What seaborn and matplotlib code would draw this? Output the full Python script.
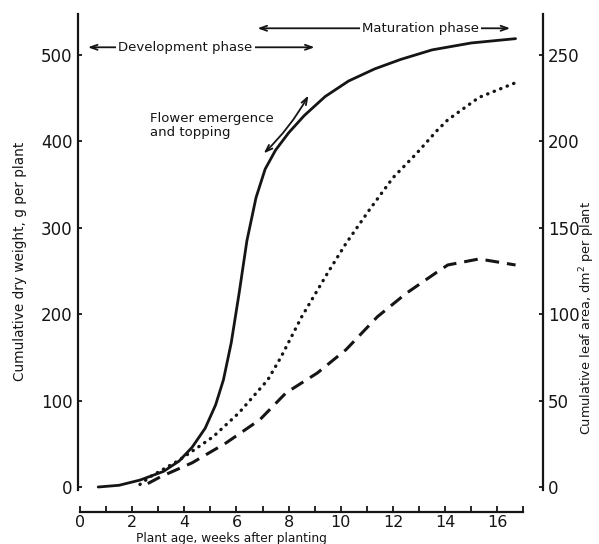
import pandas as pd
import matplotlib.pyplot as plt
import seaborn as sns

# total dry weight (solid), g per plant
dw_weeks = [0.7, 1.5, 2.3, 3.2, 3.8, 4.3, 4.8, 5.2, 5.5, 5.8, 6.1, 6.4, 6.75, 7.1, 7.5,
            8.0, 8.6, 9.4, 10.3, 11.3, 12.3, 13.5, 15.0, 16.7]
dw_vals = [0, 2, 8, 18, 30, 46, 68, 95, 124, 167, 224, 285, 335, 368, 390,
           410, 430, 452, 470, 484, 495, 506, 514, 519]

# second dry weight curve (dotted), g per plant
dot_weeks = [2.3, 2.7, 3.8, 5.1, 6.1, 7.2, 7.7, 8.5, 9.5, 10.2, 11.1, 12.0, 12.9, 13.7, 14.1, 15.3, 16.7]
dot_vals = [3, 12, 31, 58, 86, 124, 150, 197, 248, 282, 321, 358, 386, 413, 425, 451, 468]

# leaf area (dashed), dm2 per plant
la_weeks = [2.6, 3.1, 4.3, 5.6, 6.9, 7.9, 9.1, 10.2, 11.4, 12.5, 13.7, 14.1, 15.3, 16.7]
la_vals = [2, 6, 14, 25.5, 39, 54.5, 66, 79.5, 98.5, 112, 124.5, 128.5, 132, 128.5]

x_ticks = [0, 2, 4, 6, 8, 10, 12, 14, 16]
left_ticks = [0, 100, 200, 300, 400, 500]
right_ticks = [0, 50, 100, 150, 200, 250]


def main():
    sns.set_style("ticks")
    plt.rcParams['font.family'] = ['DejaVu Sans']
    ink = '#151515'

    fig = plt.figure(figsize=(5.99, 5.44), dpi=100)
    ax = fig.add_axes([0.130, 0.100, 0.776, 0.875])
    ax2 = ax.twinx()

    solid = pd.DataFrame({'week': dw_weeks, 'val': dw_vals})
    dotted = pd.DataFrame({'week': dot_weeks, 'val': dot_vals})
    dashed = pd.DataFrame({'week': la_weeks, 'val': la_vals})

    sns.lineplot(data=solid, x='week', y='val', ax=ax, color=ink, lw=2.0,
                 estimator=None, sort=False)
    sns.lineplot(data=dotted, x='week', y='val', ax=ax, color=ink, lw=2.4,
                 estimator=None, sort=False, dash_capstyle='round',
                 linestyle=(0, (0.1, 2.0)))
    sns.lineplot(data=dashed, x='week', y='val', ax=ax2, color=ink, lw=2.2,
                 estimator=None, sort=False, linestyle=(0, (4.5, 2.6)))

    ax.set_xlim(-0.08, 17.74)
    ax.set_ylim(-3, 548)
    ax2.set_ylim(-1.5, 274)

    ax.set_xticks(x_ticks)
    ax.set_xticks(range(1, 18, 2), minor=True)
    ax.set_yticks(left_ticks)
    ax2.set_yticks(right_ticks)

    for s in ['top', 'right']:
        ax.spines[s].set_visible(False)
    for s in ['top', 'left', 'bottom']:
        ax2.spines[s].set_visible(False)
    ax.spines['bottom'].set_position(('outward', 16))
    ax.spines['bottom'].set_bounds(0, 17)
    for sp in [ax.spines['left'], ax.spines['bottom'], ax2.spines['right']]:
        sp.set_linewidth(1.6)
        sp.set_color(ink)

    ax.tick_params(axis='x', which='both', direction='in', length=4, width=1.3,
                   labelsize=11.5, pad=2, colors=ink)
    ax.tick_params(axis='y', direction='in', length=3, width=1.3,
                   labelsize=12, pad=4, colors=ink)
    ax2.tick_params(axis='y', direction='in', length=3, width=1.3,
                    labelsize=12, pad=4, colors=ink)

    ax.set_xlabel("Plant age, weeks after planting", fontsize=8.8, color=ink)
    ax.xaxis.set_label_coords(0.33, -0.09)
    ax.set_ylabel("Cumulative dry weight, g per plant", fontsize=9.8, color=ink)
    ax.yaxis.set_label_coords(-0.11, 0.48)
    ax2.set_ylabel("Cumulative leaf area, dm$^2$ per plant", fontsize=9.3,
                   color=ink, rotation=90)
    ax2.yaxis.set_label_coords(1.075, 0.36)

    arrow = dict(arrowstyle='<->,head_length=0.5,head_width=0.18', color=ink, lw=1.3)
    ax.annotate('', xy=(0.2, 509), xytext=(9.1, 509), arrowprops=arrow)
    ax.text(4.05, 509, "Development phase", fontsize=9.5, ha='center', va='center',
            color=ink, bbox=dict(facecolor='white', edgecolor='none', pad=1.5))
    ax.annotate('', xy=(6.7, 531), xytext=(16.6, 531), arrowprops=arrow)
    ax.text(13.05, 531, "Maturation phase", fontsize=9.5, ha='center', va='center',
            color=ink, bbox=dict(facecolor='white', edgecolor='none', pad=1.5))

    ax.annotate('', xy=(6.97, 384), xytext=(8.81, 456),
                arrowprops=dict(arrowstyle='<->,head_length=0.5,head_width=0.18',
                                color=ink, lw=1.3,
                                connectionstyle='arc3,rad=-0.08'))
    ax.text(2.68, 419, "Flower emergence\nand topping", fontsize=9.5,
            ha='left', va='center', color=ink, linespacing=1.1)

    plt.savefig("out.png", dpi=100)
    plt.close('all')


if __name__ == "__main__":
    main()
